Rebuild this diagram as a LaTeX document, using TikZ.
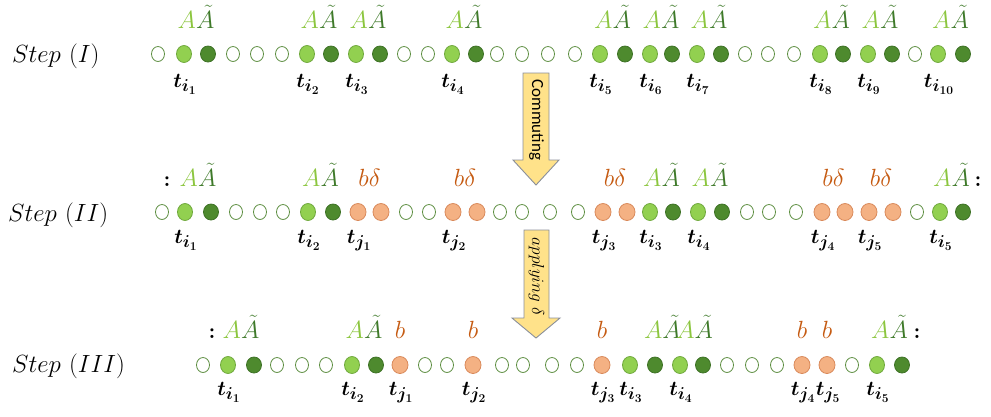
\documentclass[tikz,border=0pt]{standalone}
\usepackage{fontspec}
\newfontfamily\carlito{Carlito}
\usetikzlibrary{shapes.geometric,calc}
\DeclareMathSizes{22}{22}{17}{13}
\definecolor{lg}{HTML}{92D050}
\definecolor{lgb}{HTML}{6FA83C}
\definecolor{dg}{HTML}{4E8A2E}
\definecolor{dgb}{HTML}{3E7226}
\definecolor{og}{HTML}{F4B183}
\definecolor{ogb}{HTML}{D9895A}
\definecolor{ob}{HTML}{5E8F42}
\definecolor{txa}{HTML}{8CC63F}
\definecolor{txd}{HTML}{3F7A2A}
\definecolor{txb}{HTML}{C55A11}
\definecolor{arrfill}{HTML}{FFE28A}
\definecolor{arrline}{HTML}{8A8F9A}
\newcommand{\AAtil}{\textcolor{txa}{A}\textcolor{txd}{\tilde{A}}}
\begin{document}
\begin{tikzpicture}[x=1pt,y=-1pt,
  opn/.style={ellipse,draw=ob,fill=white,line width=0.8pt,minimum width=13pt,minimum height=15pt,inner sep=0pt},
  lgt/.style={ellipse,draw=lgb,fill=lg,line width=0.8pt,minimum width=15pt,minimum height=17pt,inner sep=0pt},
  drk/.style={ellipse,draw=dgb,fill=dg,line width=0.8pt,minimum width=15pt,minimum height=16pt,inner sep=0pt},
  org/.style={ellipse,draw=ogb,fill=og,line width=0.8pt,minimum width=16pt,minimum height=17pt,inner sep=0pt},
  steplabel/.style={anchor=base west,inner sep=0pt,font=\fontsize{27}{30}\selectfont},
  aalabel/.style={anchor=base,inner sep=0pt,font=\fontsize{23}{25}\selectfont},
  blabel/.style={anchor=base,inner sep=0pt,font=\fontsize{25}{27}\selectfont},
  tlabel/.style={anchor=base,inner sep=0pt,font=\fontsize{22}{24}\selectfont\boldmath},
  colonlabel/.style={anchor=base,inner sep=0pt,font=\fontsize{22}{24}\selectfont\bfseries},
  arrowbody/.style={fill=arrfill,draw=arrline,line width=0.9pt,line join=miter}
]
\useasboundingbox (0,0) rectangle (991,416);

% ---------- Step I ----------
\node[steplabel] (s1) at (12,62) {$Step\ (I)$};
\foreach \x/\s [count=\i] in {158/opn,184/lgt,208/drk,233/opn,257/opn,282/opn,307/lgt,331/drk,356/lgt,380/drk,404/opn,428/opn,452/lgt,476/drk,497/opn,522/opn,548/opn,575/opn,600/lgt,625/drk,650/lgt,672/drk,697/lgt,721/drk,745/opn,768/opn,794/opn,820/lgt,843/drk,868/lgt,892/drk,915/opn,938/lgt,963/drk}
  \node[\s] (a\i) at (\x,54) {};
\foreach \p/\q [count=\k] in {2/3,7/8,9/10,13/14,19/20,21/22,23/24,28/29,30/31,33/34}
  \node[aalabel] (aA\k) at ($(a\p.center)!0.5!(a\q.center)+(0,-26)$) {$\AAtil$};
\foreach \p/\n [count=\k] in {2/1,7/2,9/3,13/4,19/5,21/6,23/7,28/8,30/9,33/10}
  \node[tlabel] (aT\k) at ($(a\p.center)+(1,33)$) {$t_{i_{\n}}$};

% ---------- Step II ----------
\node[steplabel] (s2) at (8,221) {$Step\ (II)$};
\foreach \x/\s [count=\i] in {162/opn,185/lgt,211/drk,236/opn,260/opn,283/opn,308/lgt,333/drk,358/org,381/org,406/opn,429/opn,453/org,477/org,500/opn,522/opn,550/opn,578/opn,603/org,627/org,650/lgt,673/drk,698/lgt,722/drk,747/opn,769/opn,796/opn,822/org,845/org,869/org,893/org,917/opn,940/lgt,963/drk}
  \node[\s] (b\i) at (\x,212) {};
\foreach \p/\q [count=\k] in {2/3,7/8,21/22,23/24,33/34}
  \node[aalabel] (bA\k) at ($(b\p.center)!0.5!(b\q.center)+(0,-26)$) {$\AAtil$};
\foreach \p/\q [count=\k] in {9/10,13/14,19/20,28/29,30/31}
  \node[blabel] (bB\k) at ($(b\p.center)!0.5!(b\q.center)+(0,-26)$) {$\textcolor{txb}{b\delta}$};
\foreach \p/\n [count=\k] in {2/i_1,7/i_2,9/j_1,13/j_2,19/j_3,21/i_3,23/i_4,28/j_4,30/j_5,33/i_5}
  \node[tlabel] (bT\k) at ($(b\p.center)+(1,31)$) {$t_{\n}$};
\node[colonlabel] (bc1) at (167,186) {:};
\node[colonlabel] (bc2) at (978,186) {:};

% ---------- Step III ----------
\node[steplabel] (s3) at (12,372) {$Step\ (III)$};
\foreach \x/\s [count=\i] in {203/opn,228/lgt,254/drk,277/opn,302/opn,326/opn,352/lgt,376/drk,400/org,425/opn,447/opn,473/org,502/opn,523/opn,552/opn,577/opn,602/org,630/lgt,655/drk,680/lgt,703/drk,727/opn,752/opn,777/opn,802/org,827/org,852/opn,877/lgt,902/drk}
  \node[\s] (c\i) at (\x,365) {};
\foreach \p/\q [count=\k] in {2/3,7/8,28/29}
  \node[aalabel] (cA\k) at ($(c\p.center)!0.5!(c\q.center)+(0,-27)$) {$\AAtil$};
\node[aalabel] (cA4) at ($(c18.center)!0.5!(c21.center)+(12,-27)$) {$\AAtil\!\AAtil$};
\foreach \p [count=\k] in {9,12,17,25,26}
  \node[blabel] (cB\k) at ($(c\p.center)+(0,-27)$) {$\textcolor{txb}{b}$};
\foreach \p/\n [count=\k] in {2/i_1,7/i_2,9/j_1,12/j_2,17/j_3,18/i_3,20/i_4,25/j_4,26/j_5,28/i_5}
  \node[tlabel] (cT\k) at ($(c\p.center)+(1,30)$) {$t_{\n}$};
\node[colonlabel] (cc1) at (212,338) {:};
\node[colonlabel] (cc2) at (917,338) {:};

% ---------- arrows ----------
\draw[arrowbody] (523,73) -- (549,73) -- (549,160) -- (559,160) -- (536,185) -- (513,160) -- (523,160) -- cycle;
\node[rotate=-90,inner sep=0pt,font=\carlito\fontsize{17}{19}\selectfont] (comm) at (536.5,120) {Commuting};
\draw[arrowbody] (524,230) -- (549,230) -- (549,318) -- (560,318) -- (536,338) -- (512,318) -- (524,318) -- cycle;
\node[rotate=-90,inner sep=0pt,font=\fontsize{18}{20}\selectfont] (appl) at (536.5,277) {$applying\ \delta$};
\end{tikzpicture}
\end{document}
